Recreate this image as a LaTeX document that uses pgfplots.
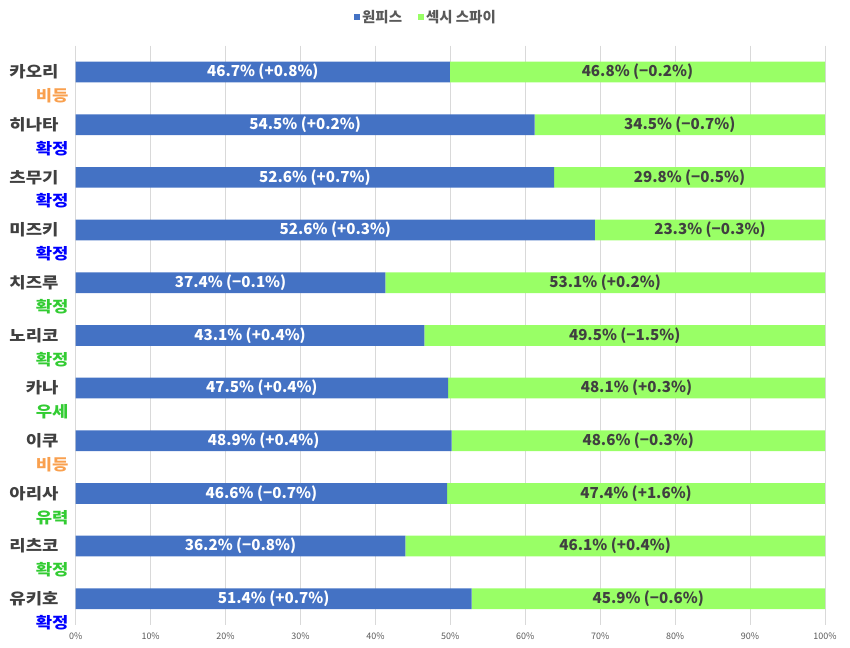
\documentclass[border=0pt]{standalone}
\usepackage{fontspec}
\usepackage{pgfplots}
\usepackage{pgfplotstable}
\pgfplotsset{compat=1.18}
\setmainfont{Noto Sans CJK KR}
\newfontfamily\catfont[FakeStretch=1.15]{Noto Sans CJK KR}
\definecolor{barblue}{HTML}{4472C4}
\definecolor{bargreen}{HTML}{99FF66}
\definecolor{namec}{HTML}{404040}
\definecolor{orangec}{HTML}{F9A04E}
\definecolor{bluec}{HTML}{0000FF}
\definecolor{greenc}{HTML}{33CC33}
\definecolor{gridc}{HTML}{D9D9D9}
\definecolor{tickc}{HTML}{595959}
\newcommand\cat[3]{\begin{tabular}[t]{@{}r@{}}\textcolor{namec}{#1}\kern10bp\\\textcolor{#2}{#3}\end{tabular}}
\pgfplotstableread{
idx a da b db
0 46.7 +0.8 46.8 −0.2
1 54.5 +0.2 34.5 −0.7
2 52.6 +0.7 29.8 −0.5
3 52.6 +0.3 23.3 −0.3
4 37.4 −0.1 53.1 +0.2
5 43.1 +0.4 49.5 −1.5
6 47.5 +0.4 48.1 +0.3
7 48.9 +0.4 48.6 −0.3
8 46.6 −0.7 47.4 +1.6
9 36.2 −0.8 46.1 +0.4
10 51.4 +0.7 45.9 −0.6
}\votes
\begin{document}
\begin{tikzpicture}
\useasboundingbox (-75.7bp,-22.9bp) rectangle (774.3bp,625.1bp);
\pgfplotsset{common/.style={
  at={(0,0)}, anchor=south west, scale only axis,
  width=749.3bp, height=579.4bp,
  xmin=0, xmax=100, ymin=-0.5, ymax=10.5, y dir=reverse}}
\begin{axis}[common,
  xbar stacked, bar width=0.393,
  ytick={0,...,10},
  yticklabels={\cat{카오리}{orangec}{비등},\cat{히나타}{bluec}{확정},\cat{츠무기}{bluec}{확정},\cat{미즈키}{bluec}{확정},\cat{치즈루}{greenc}{확정},\cat{노리코}{greenc}{확정},\cat{카나}{greenc}{우세},\cat{이쿠}{orangec}{비등},\cat{아리사}{greenc}{유력},\cat{리츠코}{greenc}{확정},\cat{유키호}{bluec}{확정}},
  yticklabel style={anchor=base east, inner sep=0pt, xshift=-7bp, yshift=-5.7bp, font=\catfont\bfseries\fontsize{15.5}{24}\selectfont},
  xtick={0,10,...,100},
  xticklabel={\pgfmathprintnumber{\tick}\%},
  /pgf/number format/assume math mode=true,
  xticklabel style={anchor=center, inner sep=0pt, yshift=-11bp, text=tickc, font=\fontsize{9}{10}\selectfont},
  xmajorgrids, grid style={draw=gridc, line width=0.8bp},
  axis line style={draw=none}, major tick length=0pt,
  legend style={at={(0.4675,1)}, anchor=center, yshift=28.7bp, draw=none, fill=none,
    legend columns=2, font=\bfseries\fontsize{14.5}{17}\selectfont, text=tickc, inner sep=0pt,
    /tikz/every even column/.append style={column sep=14bp}},
  legend cell align=left,
]
\addplot[fill=barblue, draw=none, legend image code/.code={\fill[fill=barblue] (0bp,-3bp) rectangle (6bp,3bp);}]
  table[x expr={\thisrow{a}/(\thisrow{a}+\thisrow{b})*100}, y=idx]{\votes};
\addplot[fill=bargreen, draw=none, legend image code/.code={\fill[fill=bargreen] (0bp,-3bp) rectangle (6bp,3bp);}]
  table[x expr={\thisrow{b}/(\thisrow{a}+\thisrow{b})*100}, y=idx]{\votes};
\legend{원피스,섹시 스파이}
\end{axis}
\begin{axis}[common, hide axis, clip=false,
  /pgf/number format/assume math mode=true]
\addplot[draw=none, point meta=explicit symbolic,
  visualization depends on={\thisrow{a} \as \va},
  nodes near coords={\pgfmathprintnumber[fixed,precision=1,fixed zerofill]{\va}\%~(\pgfplotspointmeta\%)},
  every node near coord/.append style={anchor=center, text=white, font=\bfseries\fontsize{15.2}{18}\selectfont}]
  table[x expr={\thisrow{a}/(\thisrow{a}+\thisrow{b})*50}, y=idx, meta=da]{\votes};
\addplot[draw=none, point meta=explicit symbolic,
  visualization depends on={\thisrow{b} \as \vb},
  nodes near coords={\pgfmathprintnumber[fixed,precision=1,fixed zerofill]{\vb}\%~(\pgfplotspointmeta\%)},
  every node near coord/.append style={anchor=center, text=namec, font=\bfseries\fontsize{15.2}{18}\selectfont}]
  table[x expr={(\thisrow{a}+\thisrow{b}/2)/(\thisrow{a}+\thisrow{b})*100}, y=idx, meta=db]{\votes};
\end{axis}
\end{tikzpicture}
\end{document}
